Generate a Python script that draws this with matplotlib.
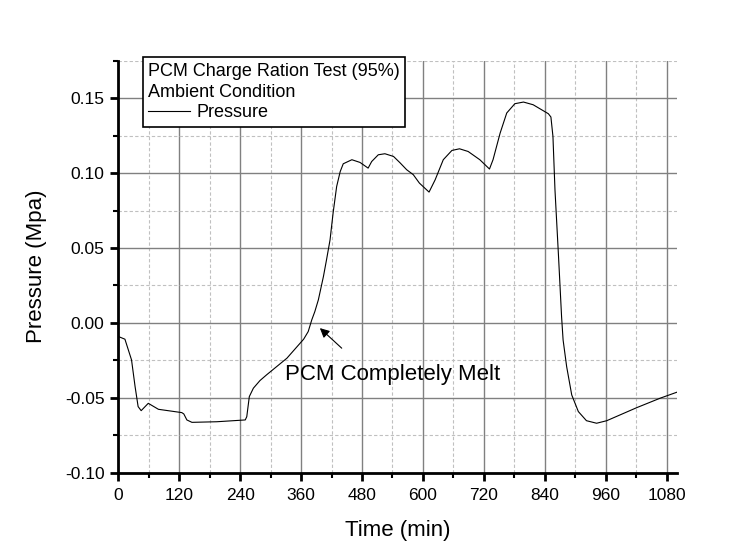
import matplotlib.pyplot as plt
import numpy as np
from matplotlib.ticker import MultipleLocator

plt.rcParams['font.family'] = ['Liberation Sans', 'DejaVu Sans']

# pressure curve (time in min, pressure in MPa)
time_min = [0, 13, 26, 33, 39, 45, 59, 79, 125, 129, 135, 145, 194, 250, 253, 258, 266,
            279, 292, 332, 365, 374, 381, 387, 394, 404, 410, 417, 423, 430, 437, 443,
            460, 476, 492, 499, 512, 525, 542, 555, 568, 581, 593, 612, 624, 640, 657,
            672, 689, 712, 731, 738, 752, 765, 781, 798, 817, 847, 852, 856, 860, 867,
            873, 876, 883, 893, 906, 922, 942, 962, 1021, 1067, 1100]
pressure = [-0.0091, -0.0109, -0.0247, -0.0425, -0.0559, -0.0586, -0.0537, -0.0577,
            -0.0599, -0.0608, -0.0648, -0.0664, -0.0660, -0.0648, -0.0626, -0.0492,
            -0.0436, -0.0385, -0.0347, -0.0236, -0.0109, -0.0058, 0.0020, 0.0075,
            0.0154, 0.0310, 0.0420, 0.0554, 0.0733, 0.0910, 0.1010, 0.1062, 0.1089,
            0.1071, 0.1033, 0.1077, 0.1122, 0.1129, 0.1111, 0.1068, 0.1022, 0.0989,
            0.0933, 0.0873, 0.0955, 0.1089, 0.1151, 0.1162, 0.1144, 0.1089, 0.1027,
            0.1089, 0.1267, 0.1401, 0.1463, 0.1474, 0.1456, 0.1396, 0.1374, 0.1245,
            0.0888, 0.0443, 0.0042, -0.0114, -0.0292, -0.0481, -0.0592, -0.0653,
            -0.0670, -0.0653, -0.0566, -0.0503, -0.0463]

x_ticks = [0, 120, 240, 360, 480, 600, 720, 840, 960, 1080]
y_ticks = [-0.10, -0.05, 0.00, 0.05, 0.10, 0.15]

fig = plt.figure(figsize=(7.34, 5.42), dpi=100)
ax = fig.add_axes([0.1612, 0.1279, 0.7616, 0.7601])

ax.plot(time_min, pressure, color='black', lw=0.8, label='Pressure')

ax.set_xlim(0, 1101)
ax.set_ylim(-0.10, 0.175)
ax.set_xticks(x_ticks)
ax.set_yticks(y_ticks)
ax.set_yticklabels(['%.2f' % v for v in y_ticks])
ax.xaxis.set_minor_locator(MultipleLocator(60))
ax.yaxis.set_minor_locator(MultipleLocator(0.025))

ax.grid(which='major', color='#808080', lw=1, ls='-')
ax.grid(which='minor', color='#c0c0c0', lw=0.8, ls=(0, (3, 2)))
ax.set_axisbelow(True)

for s in ['top', 'right']:
    ax.spines[s].set_visible(False)
for s in ['left', 'bottom']:
    ax.spines[s].set_linewidth(2)
ax.tick_params(which='major', direction='out', length=6, width=2, labelsize=12.5)
ax.tick_params(which='minor', direction='out', length=3.5, width=1.5)
ax.tick_params(axis='x', which='major', pad=5)
ax.tick_params(axis='y', which='major', pad=4)

ax.set_xlabel('Time (min)', fontsize=16, labelpad=12)
ax.set_ylabel('Pressure (Mpa)', fontsize=16, labelpad=13)

ax.annotate('', xy=(397, -0.0035), xytext=(440, -0.0169),
            arrowprops=dict(arrowstyle='-|>', color='black', lw=0.8,
                            mutation_scale=14, shrinkA=0, shrinkB=0))
ax.text(328, -0.0347, 'PCM Completely Melt', fontsize=16, ha='left', va='center')

leg = ax.legend(title='PCM Charge Ration Test (95%)\nAmbient Condition',
                loc='upper left', bbox_to_anchor=(0.0437, 1.008), borderaxespad=0,
                fancybox=False, framealpha=1, edgecolor='black', fontsize=13,
                title_fontsize=13, alignment='left', handlelength=2.3,
                handletextpad=0.4, borderpad=0.3, labelspacing=0.2)
leg.get_frame().set_linewidth(1.2)
leg.get_title().set_linespacing(1.3)

fig.savefig('out.png', dpi=100)
